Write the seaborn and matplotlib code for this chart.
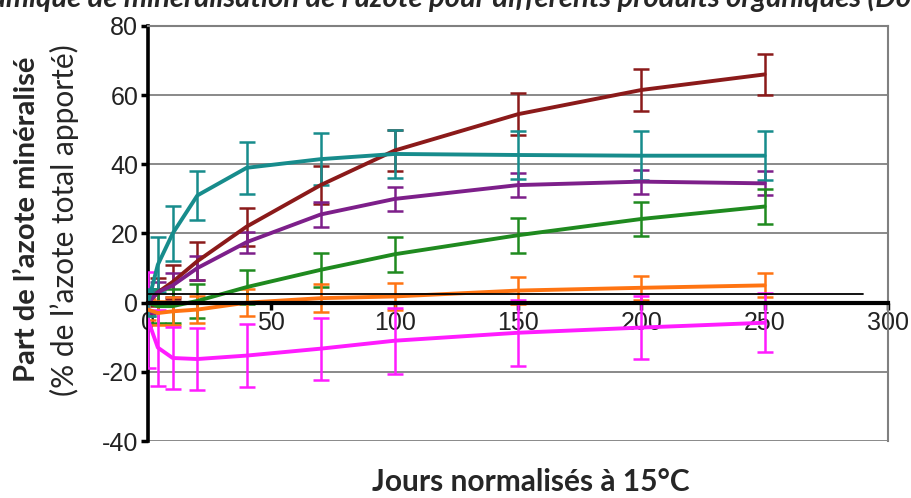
import numpy as np
import pandas as pd
import matplotlib
matplotlib.use("Agg")
import matplotlib.pyplot as plt
import seaborn as sns

# jours normalises a 15 C (points de mesure)
jours = [0, 4, 10, 20, 40, 70, 100, 150, 200, 250]

# part de l'azote mineralise (% N total apporte) et ecarts
rouge = [0, 3, 6, 12, 22, 34, 44, 54.5, 61.5, 66]
rouge_err = [3, 4, 5, 5.5, 5.5, 5.5, 6, 6, 6, 6]
bleu = [0, 11, 20, 31, 39, 41.5, 43, 42.7, 42.5, 42.5]
bleu_err = [4, 8, 8, 7, 7.5, 7.5, 7, 7, 7, 7]
violet = [0, 3, 5, 10, 17.5, 25.5, 30, 34, 35, 34.5]
violet_err = [3, 3, 3.5, 3.5, 3, 3.5, 3.5, 3.5, 3.5, 3.5]
vert = [0, -1, -1, 0.5, 4.5, 9.5, 14, 19.5, 24.2, 27.8]
vert_err = [4, 5, 5, 5, 5, 5, 5, 5, 5, 5]
orange = [-2, -3, -2.5, -2, 0, 1.3, 1.8, 3.5, 4.3, 5]
orange_err = [3, 3.5, 4, 4, 4, 4, 4, 3.8, 3.5, 3.5]
rose = [-5, -13, -16, -16.3, -15.3, -13.3, -11, -8.7, -7.2, -5.8]
rose_err = [14, 11, 9, 9, 9, 9, 9.5, 9.5, 9, 8.5]

# trait noir fin de reference
ref_x = [0, 290]
ref_y = [2.5, 2.5]

series = {
    "rouge": (rouge, rouge_err, "#8b1a1a"),
    "violet": (violet, violet_err, "#7d1f8a"),
    "vert": (vert, vert_err, "#1f8a1f"),
    "orange": (orange, orange_err, "#ff7412"),
    "rose": (rose, rose_err, "#ff1cff"),
    "bleu": (bleu, bleu_err, "#178c8c"),
}

rows = []
for name, (vals, errs, col) in series.items():
    for j, v in zip(jours, vals):
        rows.append({"jours": j, "N": v, "produit": name})
df = pd.DataFrame(rows)
palette = {k: v[2] for k, v in series.items()}

sns.set_style("white")
plt.rcParams['font.family'] = ['Liberation Sans', 'DejaVu Sans']
plt.rcParams['axes.unicode_minus'] = False

fig = plt.figure(figsize=(9.11, 4.98), dpi=100)
ax = fig.add_axes([148/911, 1-441/498, 740/911, 415/498])

ax.set_xlim(0, 300)
ax.set_ylim(-40, 80)
ax.set_yticks(np.arange(-40, 81, 20))
ax.set_xticks(np.arange(0, 301, 50))
ax.grid(axis='y', color='#808080', linewidth=1.3)
ax.grid(axis='x', visible=False)
ax.set_axisbelow(True)

for name, (vals, errs, col) in series.items():
    ax.errorbar(jours, vals, yerr=errs, fmt='none', ecolor=col,
                elinewidth=1.8, capsize=5.5, capthick=1.8, zorder=3)
sns.lineplot(data=df, x="jours", y="N", hue="produit", palette=palette,
             linewidth=2.8, legend=False, ax=ax, zorder=4)
ax.plot(ref_x, ref_y, color='black', linewidth=1.3, zorder=5)

ax.spines['left'].set_color('black')
ax.spines['left'].set_linewidth(2.6)
ax.spines['bottom'].set_position(('data', 0))
ax.spines['bottom'].set_color('black')
ax.spines['bottom'].set_linewidth(3)
ax.spines['bottom'].set_zorder(6)
ax.spines['top'].set_color('#808080')
ax.spines['top'].set_linewidth(1.5)
ax.spines['right'].set_color('#808080')
ax.spines['right'].set_linewidth(1.5)

ax.tick_params(axis='y', direction='out', length=5, width=2.5, color='black',
               labelsize=18, pad=2, left=True)
ax.tick_params(axis='x', direction='out', length=5, width=2.5, color='black',
               labelsize=18, pad=1, bottom=True)
for lab in ax.get_xticklabels() + ax.get_yticklabels():
    lab.set_color('#222222')
ax.set_xlabel("")
ax.set_ylabel("")

fig.text(27/911, 1-219/498, "Part de l\u2019azote minéralisé", rotation=90,
         ha='center', va='center', fontsize=21, fontweight='bold', family='Lato')
fig.text(64/911, 1-220/498, "(% de l\u2019azote total apporté)", rotation=90,
         ha='center', va='center', fontsize=21.5, family='Lato')
fig.text(531/911, 1-482/498, "Jours normalisés à 15°C", ha='center', va='center',
         fontsize=21.5, fontweight='bold', family='Lato')
fig.text(1.0, 1-7/498, "Dynamique de minéralisation de l\u2019azote pour différents produits organiques (Do",
         ha='right', va='baseline', fontsize=21, fontweight='bold', style='italic', family='Lato')

fig.savefig("out.png", dpi=100, facecolor='white')
